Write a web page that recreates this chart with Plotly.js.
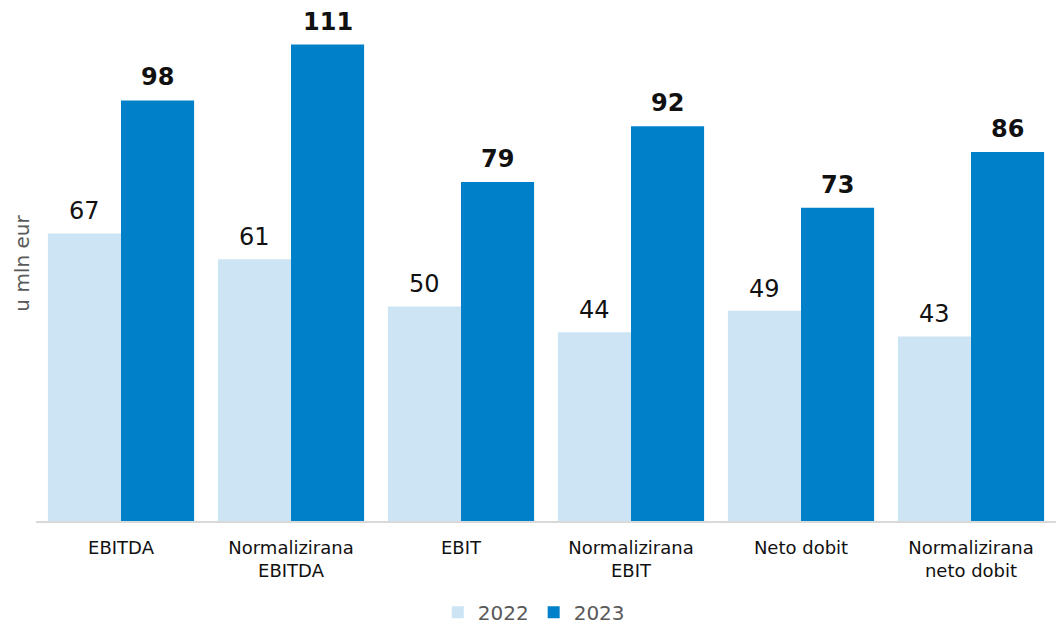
<!DOCTYPE html>
<html>
<head>
<meta charset="utf-8">
<script src="https://cdn.plot.ly/plotly-3.0.1.min.js"></script>
<style>html,body{margin:0;padding:0;background:#fff;}#chart{width:1057px;height:626px;}</style>
</head>
<body>
<div id="chart"></div>
<script>
const categories = ["EBITDA", "Normalizirana<br>EBITDA", "EBIT", "Normalizirana<br>EBIT", "Neto dobit", "Normalizirana<br>neto dobit"];
const values2022 = [67, 61, 50, 44, 49, 43];
const values2023 = [98, 111, 79, 92, 73, 86];
const seriesNames = ["2022", "2023"];

const font = "DejaVu Sans, Verdana, sans-serif";
const bargap = 0.14;
const half = (1 - bargap) / 4;

const traces = [
  {type: "bar", name: seriesNames[0], x: categories, y: values2022, marker: {color: "#cce4f3"}, hoverinfo: "none"},
  {type: "bar", name: seriesNames[1], x: categories, y: values2023, marker: {color: "#0080c9"}, hoverinfo: "none"}
];

const annotations = [];
values2022.forEach((v, i) => annotations.push({x: i - half, y: v, xref: "x", yref: "y", text: String(v), showarrow: false, yanchor: "bottom", yshift: 6, font: {family: font, size: 24, color: "#111"}}));
values2023.forEach((v, i) => annotations.push({x: i + half, y: v, xref: "x", yref: "y", text: "<b>" + v + "</b>", showarrow: false, yanchor: "bottom", yshift: 7, font: {family: font, size: 24, color: "#111"}}));

const layout = {
  width: 1057, height: 626,
  margin: {l: 36, r: 1, t: 6, b: 105},
  paper_bgcolor: "#fff", plot_bgcolor: "#fff",
  barmode: "group", bargap: bargap, bargroupgap: 0,
  font: {family: font},
  xaxis: {type: "category", automargin: false, showline: true, linecolor: "#d9d9d9", linewidth: 2, ticks: "", ticklabelstandoff: 9, tickfont: {family: font, size: 18, color: "#111"}, showgrid: false, zeroline: false, fixedrange: true},
  yaxis: {range: [0, 120], automargin: false, showticklabels: false, showgrid: false, zeroline: false, showline: false, ticks: "",
    title: {text: "u mln eur", font: {family: font, size: 20, color: "#595959"}, standoff: 0}},
  showlegend: true,
  legend: {orientation: "h", x: 0.488, xanchor: "center", yref: "container", y: 0.022, yanchor: "middle", font: {family: font, size: 20, color: "#595959"}, itemwidth: 30, tracegroupgap: 0, traceorder: "normal"},
  annotations: annotations
};

Plotly.newPlot("chart", traces, layout, {staticPlot: true, displayModeBar: false});
</script>
</body>
</html>
